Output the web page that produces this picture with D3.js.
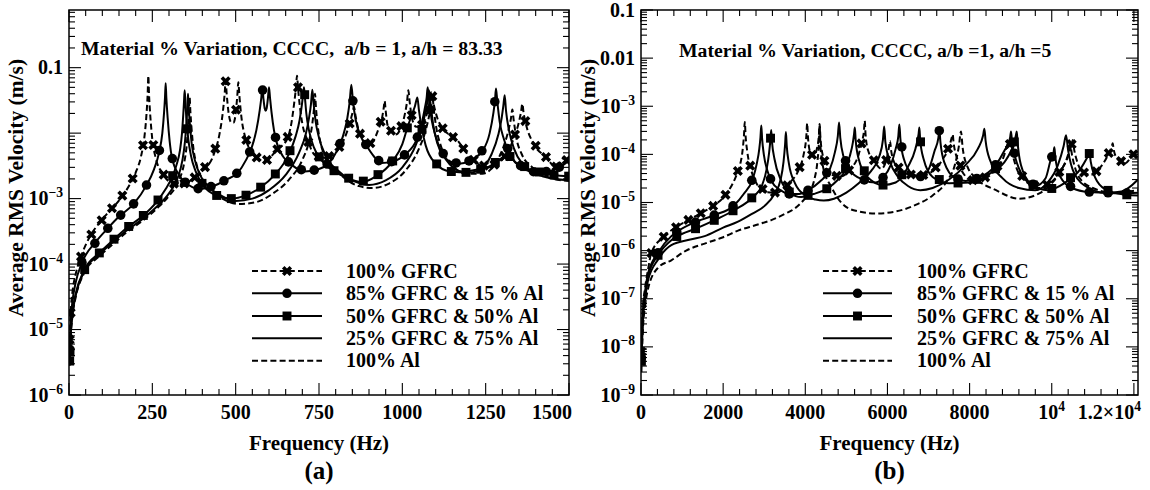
<!DOCTYPE html>
<html><head><meta charset="utf-8">
<script src="https://cdn.jsdelivr.net/npm/d3@7"></script>
<style>
body{margin:0;background:#fff}
</style></head>
<body><svg id="c" width="1150" height="490" xmlns="http://www.w3.org/2000/svg"></svg>
<script>
// ---------------- DATA : panel (a)  a/h = 83.33 ----------------
const seriesNames = ["100% GFRC","85% GFRC & 15 % Al","50% GFRC & 50% Al","25% GFRC & 75% Al","100% Al"];

const aGFRC = [[2,7e-6],[5,1.8e-5],[10,3.6e-5],[20,7e-5],[36,1.3e-4],[63,2.65e-4],[91,4.25e-4],[121,6.4e-4],[151,9.5e-4],[181,1.6e-3],[200,2.5e-3],[216,4.4e-3],[226,8.5e-3],[232,0.018],[236,0.04],[238,0.075],[240,0.04],[244,0.018],[250,8e-3],[260,4.2e-3],[281,2.4e-3],[313,1.7e-3],[340,1.65e-3],[369,1.95e-3],[399,2.6e-3],[434,4.7e-3],[452,0.01],[462,0.022],[467,0.04],[470,0.062],[473,0.04],[479,0.02],[487,0.0145],[494,0.0145],[500,0.02],[505,0.038],[508,0.06],[511,0.038],[517,0.018],[529,8.5e-3],[548,5.2e-3],[564,4.2e-3],[580,3.8e-3],[594,3.9e-3],[624,5.6e-3],[654,8e-3],[668,0.015],[676,0.03],[681,0.05],[684,0.075],[687,0.05],[692,0.027],[700,0.014],[717,7.5e-3],[740,4.5e-3],[770,4.2e-3],[800,5e-3],[825,8e-3],[842,0.014],[850,0.02],[855,0.025],[860,0.018],[870,0.0105],[885,7.5e-3],[905,7e-3],[927,0.011],[940,0.018],[944,0.024],[947,0.031],[950,0.022],[956,0.013],[968,0.0105],[980,9.5e-3],[998,0.013],[1008,0.02],[1014,0.03],[1018,0.045],[1022,0.03],[1030,0.016],[1042,0.0125],[1060,0.0135],[1074,0.02],[1082,0.03],[1088,0.042],[1094,0.028],[1105,0.017],[1120,0.012],[1140,0.0095],[1163,8e-3],[1190,5.2e-3],[1223,3.5e-3],[1260,3e-3],[1290,3.6e-3],[1310,4.6e-3],[1335,8.5e-3],[1350,0.015],[1356,0.021],[1360,0.028],[1364,0.02],[1372,0.013],[1393,7e-3],[1433,4.2e-3],[1460,3e-3],[1485,4.2e-3],[1500,3.6e-3]];

const a85 = [[2,5e-6],[5,1.3e-5],[10,2.6e-5],[20,5.2e-5],[39,1.05e-4],[81,2.2e-4],[116,3.5e-4],[146,5.1e-4],[196,8.5e-4],[231,1.55e-3],[255,2.8e-3],[270,5e-3],[280,0.01],[285,0.02],[288,0.035],[290,0.058],[292,0.035],[296,0.017],[302,7.5e-3],[309,4.2e-3],[330,2.3e-3],[347,1.8e-3],[370,1.5e-3],[392,1.4e-3],[432,1.55e-3],[472,1.95e-3],[507,2.5e-3],[530,3.8e-3],[548,6e-3],[562,0.011],[572,0.022],[577,0.035],[580,0.05],[583,0.035],[587,0.024],[590,0.022],[593,0.024],[597,0.035],[600,0.05],[603,0.035],[608,0.02],[615,0.011],[622,7.5e-3],[645,4.2e-3],[667,3.3e-3],[707,2.6e-3],[742,2.75e-3],[780,3.5e-3],[805,5.5e-3],[822,9e-3],[835,0.017],[842,0.03],[847,0.055],[852,0.03],[860,0.016],[875,9e-3],[892,6.5e-3],[915,4.4e-3],[937,3.5e-3],[973,3.7e-3],[1008,4.7e-3],[1043,8e-3],[1058,0.014],[1068,0.025],[1073,0.035],[1076,0.05],[1080,0.032],[1088,0.016],[1100,9e-3],[1115,5.5e-3],[1138,3.8e-3],[1170,3.4e-3],[1203,3.8e-3],[1243,5.6e-3],[1262,0.01],[1273,0.02],[1278,0.032],[1281,0.048],[1285,0.03],[1292,0.015],[1305,8e-3],[1325,4.5e-3],[1360,3e-3],[1400,2.5e-3],[1440,2.6e-3],[1470,3e-3],[1500,3.8e-3]];

const a50 = [[2,3.3e-6],[5,8.5e-6],[10,1.75e-5],[20,3.5e-5],[45,8e-5],[91,1.48e-4],[131,2.3e-4],[171,3.5e-4],[221,5.4e-4],[263,8.9e-4],[290,1.4e-3],[309,2.1e-3],[322,3.2e-3],[333,5.5e-3],[339,0.01],[343,0.02],[345,0.03],[347,0.045],[349,0.03],[352,0.017],[358,8e-3],[366,4.5e-3],[380,2.6e-3],[402,1.6e-3],[442,1.12e-3],[487,1.0e-3],[532,1.13e-3],[572,1.45e-3],[617,2.3e-3],[657,4.5e-3],[680,9e-3],[692,0.016],[699,0.028],[702,0.038],[705,0.05],[708,0.034],[712,0.02],[720,0.011],[735,6e-3],[755,4e-3],[782,2.9e-3],[832,2.1e-3],[877,1.8e-3],[922,2.2e-3],[972,3.8e-3],[1000,6.8e-3],[1016,0.0125],[1030,0.02],[1038,0.026],[1045,0.035],[1050,0.022],[1058,0.012],[1070,6.5e-3],[1098,3.5e-3],[1143,2.6e-3],[1200,2.5e-3],[1255,3e-3],[1295,4e-3],[1318,4.7e-3],[1340,3.5e-3],[1403,2.6e-3],[1453,2.3e-3],[1500,2.2e-3]];

const a25 = [[2,3e-6],[5,8e-6],[10,1.65e-5],[20,3.3e-5],[45,7.6e-5],[91,1.4e-4],[131,2.15e-4],[171,3.2e-4],[221,4.9e-4],[263,7.5e-4],[300,1.2e-3],[325,2e-3],[340,3.8e-3],[348,7.5e-3],[353,0.016],[355,0.025],[357,0.04],[359,0.025],[362,0.015],[368,7e-3],[378,3.8e-3],[395,2.2e-3],[420,1.5e-3],[455,1.12e-3],[500,9.2e-4],[550,1e-3],[600,1.35e-3],[650,2.3e-3],[690,5e-3],[710,9.5e-3],[720,0.017],[726,0.028],[730,0.046],[734,0.028],[740,0.015],[750,8.5e-3],[770,4.5e-3],[810,2.6e-3],[860,1.8e-3],[900,1.62e-3],[950,1.9e-3],[1000,3e-3],[1040,6.5e-3],[1060,0.013],[1070,0.022],[1076,0.032],[1080,0.045],[1084,0.03],[1092,0.014],[1105,7e-3],[1130,4e-3],[1180,2.6e-3],[1230,2.8e-3],[1268,4.8e-3],[1288,9.5e-3],[1298,0.017],[1303,0.026],[1307,0.038],[1311,0.022],[1320,0.011],[1335,5.8e-3],[1360,3.4e-3],[1420,2.2e-3],[1500,1.9e-3]];

const aAl = [[2,2.8e-6],[5,7.5e-6],[10,1.55e-5],[20,3.1e-5],[45,7.2e-5],[91,1.32e-4],[131,2e-4],[171,3e-4],[221,4.6e-4],[263,7e-4],[300,1.1e-3],[330,1.9e-3],[345,3.4e-3],[353,6.5e-3],[358,0.014],[360,0.022],[362,0.035],[364,0.022],[367,0.013],[373,6e-3],[383,3.3e-3],[400,2e-3],[425,1.35e-3],[460,1e-3],[510,8.3e-4],[560,8.8e-4],[610,1.18e-3],[660,1.95e-3],[700,3.9e-3],[720,7.5e-3],[730,0.014],[735,0.024],[738,0.04],[741,0.024],[746,0.013],[755,7e-3],[775,4e-3],[820,2.2e-3],[870,1.55e-3],[910,1.45e-3],[960,1.7e-3],[1010,2.7e-3],[1050,5.8e-3],[1070,0.011],[1080,0.018],[1086,0.026],[1090,0.038],[1094,0.024],[1102,0.012],[1115,6.5e-3],[1140,3.8e-3],[1190,2.4e-3],[1240,2.4e-3],[1280,3.5e-3],[1305,6.5e-3],[1320,0.012],[1326,0.017],[1330,0.023],[1334,0.016],[1342,8.5e-3],[1358,4.8e-3],[1390,3e-3],[1440,2.1e-3],[1500,1.85e-3]];

// ---------------- DATA : panel (b)  a/h = 5 ----------------
const bGFRC = [[10,8e-9],[45,6e-8],[100,1.7e-7],[170,4e-7],[251,8.9e-7],[536,1.9e-6],[860,3.1e-6],[1144,4.3e-6],[1445,5.9e-6],[1777,8.7e-6],[2078,1.5e-5],[2300,3.3e-5],[2410,6e-5],[2467,1.1e-4],[2507,2.5e-4],[2527,4.7e-4],[2547,2.4e-4],[2590,1.1e-4],[2680,4.8e-5],[2800,2.6e-5],[3036,1.65e-5],[3300,1.6e-5],[3500,2e-5],[3662,2.8e-5],[3850,5e-5],[3960,1e-4],[4025,2.4e-4],[4045,4.4e-4],[4065,2.3e-4],[4120,1.1e-4],[4197,9e-5],[4270,1.2e-4],[4329,2.4e-4],[4349,4.3e-4],[4369,2.2e-4],[4430,9e-5],[4553,4.4e-5],[4820,3.4e-5],[5090,4.8e-5],[5300,1e-4],[5390,2e-4],[5427,3e-4],[5447,5e-4],[5467,2.6e-4],[5530,1.2e-4],[5715,6.5e-5],[5850,5e-5],[5960,7e-5],[6030,1.3e-4],[6063,1.9e-4],[6090,1.2e-4],[6200,6e-5],[6450,4e-5],[6800,3.5e-5],[7100,4.5e-5],[7350,8e-5],[7510,1.5e-4],[7569,2.3e-4],[7589,2.6e-4],[7609,1.8e-4],[7700,8e-5],[7900,3.5e-5],[8037,2.9e-5],[8300,3e-5],[8600,4.5e-5],[8841,9.5e-5],[8920,1.6e-4],[8960,1.9e-4],[9000,1.4e-4],[9150,5e-5],[9400,2.6e-5],[9700,2e-5],[9950,2.5e-5],[10250,5e-5],[10430,1.1e-4],[10491,1.7e-4],[10511,2e-4],[10531,1.5e-4],[10600,8e-5],[10800,4e-5],[11000,3.8e-5],[11163,5.1e-5],[11350,9e-5],[11465,1.5e-4],[11485,1.7e-4],[11505,1.3e-4],[11600,8e-5],[11785,6.5e-5],[11900,8e-5],[12008,1.05e-4],[12100,1.1e-4]];

const b85 = [[10,6e-9],[45,5e-8],[100,1.4e-7],[170,3.3e-7],[414,9e-7],[738,2e-6],[884,2.5e-6],[1347,4e-6],[1794,5.5e-6],[2264,8.7e-6],[2500,1.5e-5],[2727,3.2e-5],[2820,6.5e-5],[2880,1.3e-4],[2909,2.3e-4],[2929,4e-4],[2949,2.1e-4],[2990,1e-4],[3080,4.5e-5],[3173,2.8e-5],[3400,1.8e-5],[3620,1.5e-5],[3850,1.5e-5],[4066,1.8e-5],[4350,2.7e-5],[4600,5e-5],[4720,1.1e-4],[4792,2.4e-4],[4822,4.6e-4],[4852,2.2e-4],[4930,9e-5],[5100,4.5e-5],[5400,3e-5],[5700,2.6e-5],[5893,3.3e-5],[6080,6e-5],[6200,1.3e-4],[6265,2.4e-4],[6290,4.2e-4],[6315,2.1e-4],[6400,8e-5],[6600,4e-5],[6830,3.4e-5],[7030,5.5e-5],[7150,1.2e-4],[7240,2.2e-4],[7264,3.2e-4],[7290,1.8e-4],[7380,7e-5],[7650,3.2e-5],[7900,2.8e-5],[8200,3.2e-5],[8600,5.5e-5],[8850,1.2e-4],[8985,2.2e-4],[9009,3e-4],[9035,1.7e-4],[9106,9e-5],[9300,3.5e-5],[9600,2.2e-5],[9850,3.2e-5],[9980,8e-5],[10044,1.1e-4],[10064,1.4e-4],[10085,9e-5],[10200,3.5e-5],[10500,2e-5],[10893,1.65e-5],[11300,1.6e-5],[11700,1.55e-5],[12100,1.6e-5]];

const b50 = [[10,5e-9],[45,4.2e-8],[100,1.2e-7],[170,2.9e-7],[414,8e-7],[738,1.65e-6],[884,2e-6],[1347,2.9e-6],[1794,4.3e-6],[2264,6.9e-6],[2727,1.3e-5],[2950,2.3e-5],[3060,5e-5],[3120,1.1e-4],[3150,2e-4],[3170,3.2e-4],[3190,1.8e-4],[3250,8e-5],[3400,3e-5],[3620,1.6e-5],[3900,1.3e-5],[4200,1.5e-5],[4512,1.9e-5],[4800,3e-5],[4959,4.5e-5],[5080,9e-5],[5160,1.8e-4],[5186,2.6e-4],[5206,3.6e-4],[5226,2e-4],[5300,8e-5],[5500,3.5e-5],[5893,2.3e-5],[6200,2.6e-5],[6500,5.5e-5],[6680,1.3e-4],[6757,2.6e-4],[6777,3.6e-4],[6797,2e-4],[6880,8e-5],[7100,3.4e-5],[7500,2.5e-5],[8000,2.6e-5],[8500,4e-5],[8900,8e-5],[9080,1.7e-4],[9128,2.5e-4],[9148,3e-4],[9168,1.8e-4],[9250,6e-5],[9500,2.4e-5],[9900,1.8e-5],[10300,2.5e-5],[10700,5e-5],[10860,8.5e-5],[10916,1.05e-4],[10950,7e-5],[11100,2.8e-5],[11400,1.7e-5],[11800,1.45e-5],[12100,1.4e-5]];

const b25 = [[10,4.5e-9],[45,3.5e-8],[100,1e-7],[170,2.4e-7],[414,6.5e-7],[738,1.3e-6],[1200,1.7e-6],[1550,2e-6],[2000,3e-6],[2362,4e-6],[2700,5.8e-6],[3010,8.5e-6],[3250,1.5e-5],[3400,3e-5],[3470,7e-5],[3508,1.6e-4],[3528,2.9e-4],[3548,1.5e-4],[3600,6.5e-5],[3750,2.5e-5],[4000,1.4e-5],[4250,1.15e-5],[4450,1.1e-5],[4700,1.2e-5],[5000,1.6e-5],[5300,2.5e-5],[5600,4.5e-5],[5800,9e-5],[5890,2e-4],[5920,3.8e-4],[5950,1.8e-4],[6063,7e-5],[6250,3.5e-5],[6500,2.2e-5],[6800,1.8e-5],[7100,2e-5],[7500,3e-5],[7900,6e-5],[8200,1.3e-4],[8330,2.5e-4],[8360,3.4e-4],[8390,1.9e-4],[8500,7.5e-5],[8800,3.2e-5],[9200,2e-5],[9600,1.8e-5],[9900,2.6e-5],[10150,6e-5],[10290,1.5e-4],[10348,2.5e-4],[10400,1.2e-4],[10550,4e-5],[10900,2e-5],[11300,1.6e-5],[11700,1.7e-5],[12100,3e-5]];

const bAl = [[10,3e-9],[45,2.2e-8],[100,7e-8],[170,1.6e-7],[414,4.4e-7],[738,6.3e-7],[1100,1e-6],[1550,1.4e-6],[2000,1.9e-6],[2362,2.6e-6],[2800,3.4e-6],[3173,4.3e-6],[3500,5.8e-6],[3742,7.5e-6],[3950,1.1e-5],[4100,1.6e-5],[4220,3e-5],[4290,6.5e-5],[4329,1.6e-4],[4349,4e-4],[4369,1.5e-4],[4432,5.5e-5],[4634,2.1e-5],[4959,8.5e-6],[5300,6.5e-6],[5715,5.9e-6],[6200,6.5e-6],[6700,9e-6],[7100,1.4e-5],[7450,2.8e-5],[7640,6e-5],[7740,1.5e-4],[7790,3e-4],[7830,1.4e-4],[7950,5.5e-5],[8157,3.2e-5],[8644,1.8e-5],[9211,1.2e-5],[9698,1.55e-5],[10000,2.5e-5],[10250,5e-5],[10400,1e-4],[10450,1.5e-4],[10500,9e-5],[10650,3.5e-5],[11000,2e-5],[11500,1.6e-5],[12100,1.8e-5]];

// ---------------- TICKS / TEXT ----------------
const aXTicks = [0,250,500,750,1000,1250,1500];
const aXLabels = ["0","250","500","750","1000","1250","1500"];
const aYTicks = [0.1,1e-3,1e-4,1e-5,1e-6];
const aYLabels = ["0.1","10^-3","10^-4","10^-5","10^-6"];
const bXTicks = [0,2000,4000,6000,8000,10000,12000];
const bXLabels = ["0","2000","4000","6000","8000","10^4","1.2×10^4"];
const bYTicks = [0.1,0.01,1e-3,1e-4,1e-5,1e-6,1e-7,1e-8,1e-9];
const bYLabels = ["0.1","0.01","10^-3","10^-4","10^-5","10^-6","10^-7","10^-8","10^-9"];
const aTitle = "Material % Variation, CCCC,  a/b = 1, a/h = 83.33";
const bTitle = "Material % Variation, CCCC, a/b =1, a/h =5";

// ---------------- DRAW ----------------
const FONT = "Liberation Serif";
const svg = d3.select("#c");
const styles = [
  {dash:"6,3.2", marker:"x"},
  {dash:null, marker:"circle"},
  {dash:null, marker:"square"},
  {dash:null, marker:null},
  {dash:"6,3.2", marker:null}
];

function markerPath(type){
  if(type==="x") return d3.symbol(d3.symbolCross, 64)();
  if(type==="circle") return d3.symbol(d3.symbolCircle, 72)();
  if(type==="square") return d3.symbol(d3.symbolSquare, 80)();
  return null;
}
function drawMarker(g, type, px, py){
  const p = markerPath(type); if(!p) return;
  g.append("path").attr("d", p).attr("fill","#000")
   .attr("transform", `translate(${px},${py})` + (type==="x" ? " rotate(45)" : ""));
}
function valAt(data, f){
  if(f<=data[0][0]) return data[0][1];
  for(let i=0;i<data.length-1;i++){
    const a=data[i], b=data[i+1];
    if(f>=a[0] && f<=b[0]){
      const t=(f-a[0])/(b[0]-a[0]);
      return Math.pow(10, Math.log10(a[1])*(1-t)+Math.log10(b[1])*t);
    }
  }
  return data[data.length-1][1];
}
function txt(g){
  return g.append("text").attr("font-family",FONT).attr("font-weight","bold").attr("fill","#000");
}
function label(g, x, y, s, anchor, size){
  const t = txt(g).attr("x",x).attr("y",y).attr("text-anchor",anchor).attr("font-size",size);
  if(s.includes("^")){
    const [base, ex] = s.split("^");
    t.append("tspan").text(base);
    t.append("tspan").attr("dy",-8).attr("font-size",size*0.68).text(ex.replace("-","\u2212"));
  } else t.text(s);
  return t;
}

function drawPanel(P){
  const g = svg.append("g");
  const x = d3.scaleLinear().domain(P.xDomain).range([P.left,P.right]);
  const y = d3.scaleLog().domain(P.yDomain).range([P.bottom,P.top]);
  const clipId = "clip"+P.id;
  svg.append("clipPath").attr("id",clipId).append("rect")
     .attr("x",P.left).attr("y",P.top).attr("width",P.right-P.left).attr("height",P.bottom-P.top);

  const tg = g.append("g").attr("stroke","#000").attr("stroke-width",1.1);
  const MAJ=12, MIN=6;
  for(let f=P.xDomain[0]; f<=P.xDomain[1]+1e-6; f+=P.xMinor){
    const isMaj = Math.abs(f/P.xMajor - Math.round(f/P.xMajor))<1e-6;
    const L = isMaj?MAJ:MIN, px=x(f);
    tg.append("line").attr("x1",px).attr("x2",px).attr("y1",P.bottom).attr("y2",P.bottom-L);
    tg.append("line").attr("x1",px).attr("x2",px).attr("y1",P.top).attr("y2",P.top+L);
  }
  const e0=Math.floor(Math.log10(P.yDomain[0])), e1=Math.ceil(Math.log10(P.yDomain[1]));
  for(let e=e0;e<=e1;e++) for(let k=1;k<=9;k++){
    const v=k*Math.pow(10,e);
    if(v<P.yDomain[0]*0.999 || v>P.yDomain[1]*1.001) continue;
    const L = k===1?MAJ:MIN, py=y(v);
    tg.append("line").attr("x1",P.left).attr("x2",P.left+L).attr("y1",py).attr("y2",py);
    tg.append("line").attr("x1",P.right).attr("x2",P.right-L).attr("y1",py).attr("y2",py);
  }
  g.append("rect").attr("x",P.left).attr("y",P.top).attr("width",P.right-P.left).attr("height",P.bottom-P.top)
   .attr("fill","none").attr("stroke","#000").attr("stroke-width",1.5);

  P.xTicks.forEach((v,i)=>{
    const last = i===P.xTicks.length-1;
    label(g, last? P.right+3 : x(v), 419, P.xLabels[i], last?"end":"middle", 20);
  });
  P.yTicks.forEach((v,i)=> label(g, P.left-6, y(v)+6.5, P.yLabels[i], "end", 20));

  txt(g).attr("x",(P.left+P.right)/2).attr("y",450).attr("text-anchor","middle").attr("font-size",21).text("Frequency (Hz)");
  txt(g).attr("transform",`translate(${P.left-46},188) rotate(-90)`).attr("text-anchor","middle").attr("font-size",21.5).text("Average RMS Velocity (m/s)");
  txt(g).attr("x",(P.left+P.right)/2).attr("y",479).attr("text-anchor","middle").attr("font-size",25).text(P.tag);
  txt(g).attr("x",P.titleX).attr("y",P.titleY).attr("font-size",19.7).attr("xml:space","preserve").style("white-space","pre").text(P.title);

  const line = d3.line().x(d=>x(d[0])).y(d=>y(d[1])).curve(d3.curveMonotoneX);
  const cg = g.append("g").attr("clip-path",`url(#${clipId})`);
  const order=[4,3,2,1,0];
  order.forEach(si=>{
    const st=styles[si];
    cg.append("path").datum(P.series[si]).attr("d",line).attr("fill","none").attr("stroke","#000")
      .attr("stroke-width",2).attr("stroke-dasharray",st.dash).attr("stroke-linejoin","round");
  });
  order.forEach(si=>{
    const st=styles[si]; if(!st.marker) return;
    const data=P.series[si], [ph,step]=P.markerSteps[si];
    drawMarker(cg, st.marker, x(data[0][0]), y(data[0][1]));
    for(let f=ph; f<=P.xDomain[1]; f+=step){
      if(f<=data[0][0]) continue;
      drawMarker(cg, st.marker, x(f), y(valAt(data,f)));
    }
  });

  const lg = g.append("g");
  seriesNames.forEach((nm,i)=>{
    const ly = P.legendY[i];
    lg.append("line").attr("x1",P.legendX[0]).attr("x2",P.legendX[1]).attr("y1",ly).attr("y2",ly)
      .attr("stroke","#000").attr("stroke-width",2).attr("stroke-dasharray",styles[i].dash);
    if(styles[i].marker) drawMarker(lg, styles[i].marker, (P.legendX[0]+P.legendX[1])/2, ly);
    txt(lg).attr("x",P.legendText).attr("y",ly+6.5).attr("font-size",20).text(nm);
  });
}

drawPanel({id:"a", left:69, right:569, top:10, bottom:395,
  xDomain:[0,1500], yDomain:[1e-6, 0.76], xMajor:250, xMinor:50,
  xTicks:aXTicks, xLabels:aXLabels, yTicks:aYTicks, yLabels:aYLabels,
  series:[aGFRC,a85,a50,a25,aAl], markerSteps:[[5,31],[0.3,38.7],[3,44],null,null],
  legendX:[252,322], legendText:346, legendY:[271,293.3,316,338.3,360.7],
  title:aTitle, titleX:81, titleY:55, tag:"(a)"});
drawPanel({id:"b", left:641, right:1138, top:10, bottom:395,
  xDomain:[0,12100], yDomain:[1e-9, 0.1], xMajor:2000, xMinor:400,
  xTicks:bXTicks, xLabels:bXLabels, yTicks:bYTicks, yLabels:bYLabels,
  series:[bGFRC,b85,b50,b25,bAl], markerSteps:[[-50,301],[-42,456.5],[-42,456.5],null,null],
  legendX:[823,892], legendText:917, legendY:[271,293.3,316,338.3,360.7],
  title:bTitle, titleX:679, titleY:57, tag:"(b)"});
</script></body></html>
